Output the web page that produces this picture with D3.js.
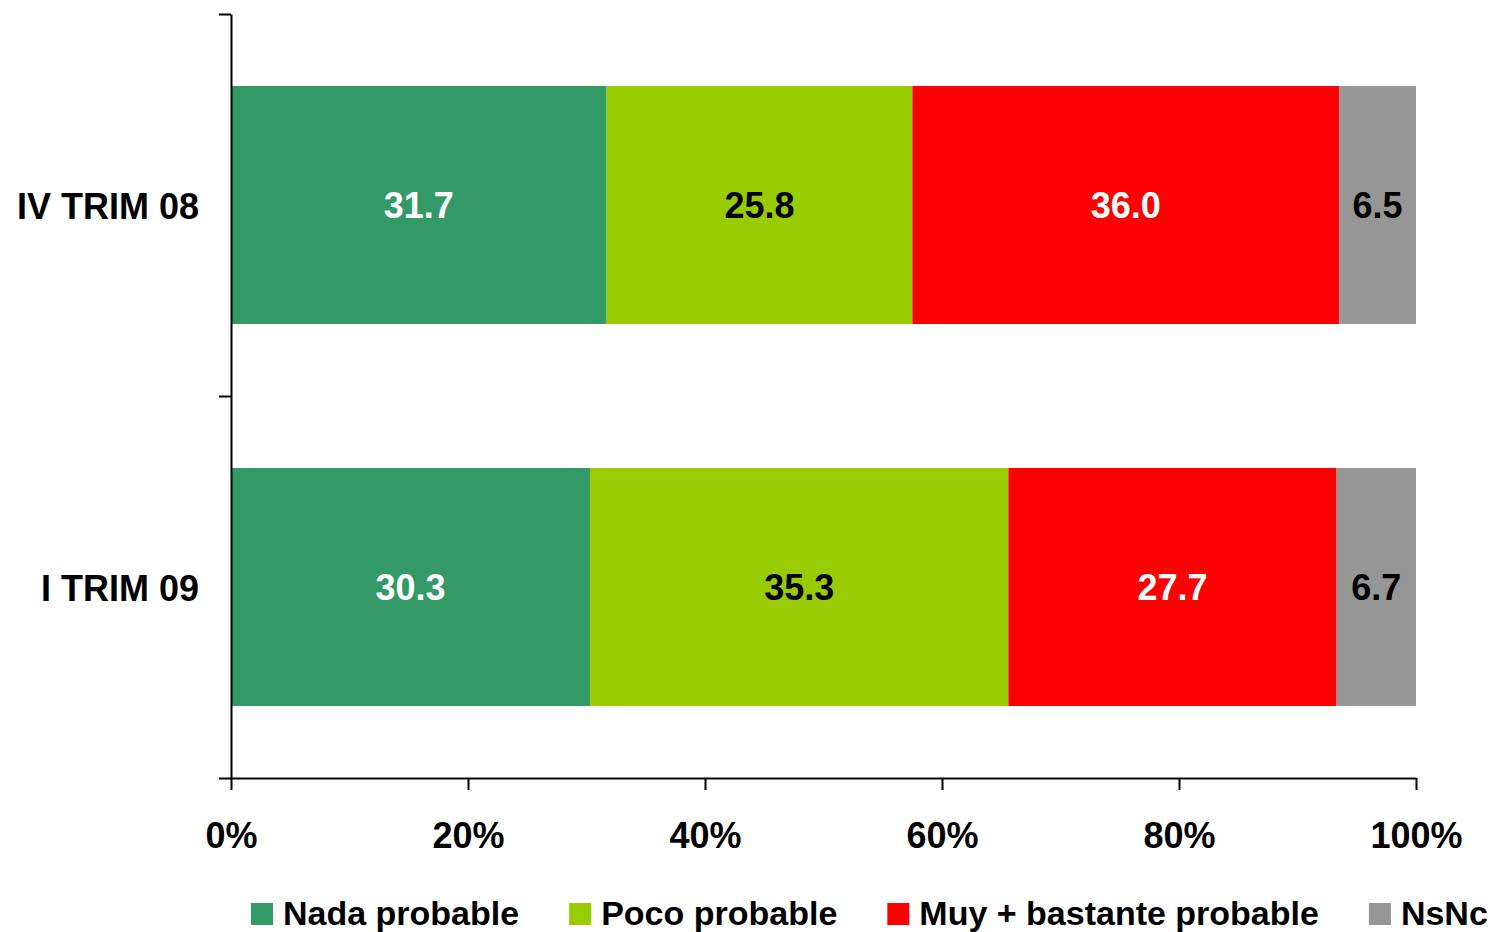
<!DOCTYPE html>
<html>
<head>
<meta charset="utf-8">
<script src="https://cdn.jsdelivr.net/npm/d3@7"></script>
<style>
  html, body { margin: 0; padding: 0; background: #fff; }
  svg { display: block; font-family: "Liberation Sans", Arial, sans-serif; font-weight: bold; }
</style>
</head>
<body>
<svg id="chart" width="1490" height="932"></svg>
<script>
const categories = ["IV TRIM 08", "I TRIM 09"];
const seriesNames = ["Nada probable", "Poco probable", "Muy + bastante probable", "NsNc"];
const nadaProbable = [31.7, 30.3];
const pocoProbable = [25.8, 35.3];
const muyBastante = [36.0, 27.7];
const nsnc = [6.5, 6.7];
const xTicks = [0, 20, 40, 60, 80, 100];

(function () {
const colors = ["#339966", "#99CC00", "#FF0000", "#969696"];
const labelColors = ["#ffffff", "#000000", "#ffffff", "#000000"];
const seriesValues = [nadaProbable, pocoProbable, muyBastante, nsnc];

const svg = d3.select("#chart");
const mLeft = 231, mRight = 1416, mTop = 14, mBottom = 778;

const x = d3.scaleLinear().domain([0, 100]).range([mLeft, mRight]);
const y = d3.scaleBand().domain(categories).range([mTop, mBottom]).padding(0);
const barH = y.bandwidth() * 0.623;

const rows = categories.map((c, i) => {
  const o = { cat: c };
  seriesNames.forEach((s, j) => o[s] = seriesValues[j][i]);
  return o;
});
const stack = d3.stack().keys(seriesNames)(rows);

stack.forEach((layer, j) => {
  const g = svg.append("g");
  g.selectAll("rect").data(layer).join("rect")
    .attr("x", d => x(d[0]))
    .attr("width", d => x(d[1]) - x(d[0]))
    .attr("y", d => y(d.data.cat) + (y.bandwidth() - barH) / 2)
    .attr("height", barH)
    .attr("fill", colors[j]);
  g.selectAll("text").data(layer).join("text")
    .attr("x", d => (x(d[0]) + x(d[1])) / 2)
    .attr("y", d => y(d.data.cat) + y.bandwidth() / 2 + 13)
    .attr("text-anchor", "middle")
    .attr("font-size", 36)
    .attr("fill", labelColors[j])
    .text(d => (d[1] - d[0]).toFixed(1));
});

const xAxis = d3.axisBottom(x).tickValues(xTicks).tickSize(12).tickSizeOuter(0)
  .tickFormat(d => d + "%");
const gx = svg.append("g").attr("transform", `translate(0,${mBottom})`).call(xAxis);
gx.select(".domain").attr("stroke", "#000").attr("stroke-width", 2);
gx.selectAll(".tick line").attr("stroke", "#000").attr("stroke-width", 2);
gx.selectAll(".tick text")
  .attr("y", 70).attr("dy", 0)
  .attr("font-size", 36).attr("font-family", "Liberation Sans, Arial, sans-serif")
  .attr("font-weight", "bold").attr("fill", "#000");

const yb = d3.scaleLinear().domain([0, categories.length]).range([mTop, mBottom]);
const yAxis = d3.axisLeft(yb).tickValues(d3.range(categories.length + 1)).tickSize(12)
  .tickSizeOuter(0).tickFormat("");
const gy = svg.append("g").attr("transform", `translate(${mLeft},0)`).call(yAxis);
gy.select(".domain").attr("stroke", "#000").attr("stroke-width", 2);
gy.selectAll(".tick line").attr("stroke", "#000").attr("stroke-width", 2);

svg.append("g").selectAll("text").data(categories).join("text")
  .attr("x", 199)
  .attr("y", d => y(d) + y.bandwidth() / 2 + 14)
  .attr("text-anchor", "end")
  .attr("font-size", 36)
  .attr("fill", "#000")
  .text(d => d);

const lg = svg.append("g");
let lx = 251;
seriesNames.forEach((s, j) => {
  lg.append("rect").attr("x", lx).attr("y", 903).attr("width", 22).attr("height", 22)
    .attr("fill", colors[j]);
  const t = lg.append("text").attr("x", lx + 32).attr("y", 925)
    .attr("font-size", 34).attr("fill", "#000").text(s);
  lx += 32 + t.node().getComputedTextLength() + 50;
});
})();
</script>
</body>
</html>
